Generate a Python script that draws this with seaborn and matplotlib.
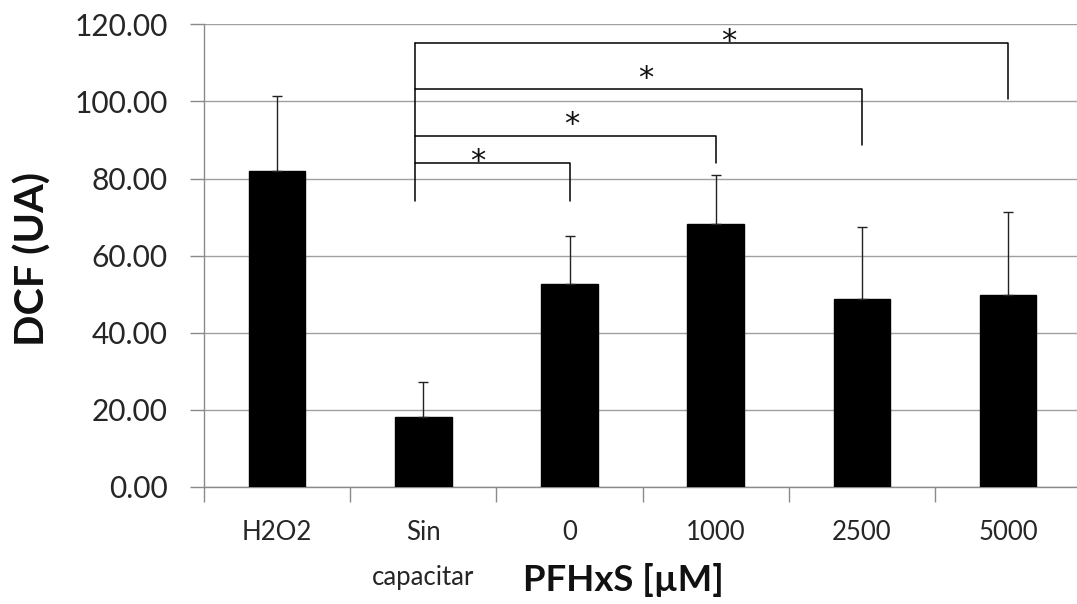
import matplotlib
matplotlib.use("Agg")
import matplotlib.pyplot as plt
import seaborn as sns
import pandas as pd
import numpy as np

categories = ["H2O2", "Sin\ncapacitar", "0", "1000", "2500", "5000"]
means = [82.0, 18.1, 52.6, 68.3, 48.8, 49.9]
errors = [19.3, 9.2, 12.4, 12.7, 18.7, 21.5]

# significance brackets from "Sin capacitar" to each PFHxS group
bracket_right = [2, 3, 4, 5]
bracket_top = [84.0, 91.0, 103.1, 115.1]
bracket_right_bottom = [74.1, 84.0, 88.8, 100.5]
bracket_left_bottom = 74.1
star_x = [1.375, 2.015, 2.524, 3.09]
star_y = [86.8, 96.5, 108.3, 117.9]

sns.set_theme(style="white")
plt.rcParams['font.family'] = ['Lato', 'DejaVu Sans']

df = pd.DataFrame({"cat": categories, "val": means})

W, H = 1077, 604
ax_left, ax_right, ax_top, ax_bottom = 204, 1077, 24.3, 487
fig = plt.figure(figsize=(W / 100, H / 100), dpi=100)
ax = fig.add_axes([ax_left / W, 1 - ax_bottom / H, (ax_right - ax_left) / W, (ax_bottom - ax_top) / H])

sns.barplot(data=df, x="cat", y="val", color="black", width=0.386,
            errorbar=None, ax=ax, saturation=1, zorder=3)
for p in ax.patches:
    p.set_edgecolor("black")

xs = np.arange(len(categories))
ax.errorbar(xs, means, yerr=[np.zeros(len(means)), errors], fmt="none",
            ecolor="#222222", elinewidth=1.0, capsize=3.5, capthick=1.0, zorder=4)

# brackets
left_x = 1 - 0.058
top_max = max(bracket_top)
ax.plot([left_x, left_x], [bracket_left_bottom, top_max], color="black", lw=1.1, zorder=5)
for r, t, b in zip(bracket_right, bracket_top, bracket_right_bottom):
    ax.plot([left_x, r, r], [t, t, b], color="black", lw=1.1, zorder=5)
for sx, sy in zip(star_x, star_y):
    ax.text(sx, sy - 2.4, "*", ha="center", va="center", fontsize=22,
            family="DejaVu Sans", color="#111111", zorder=6)

px_per_cat = 146.2
ax.set_xlim(-0.5, -0.5 + (ax_right - ax_left) / px_per_cat)
ax.set_ylim(0, 120)
ax.set_yticks(np.arange(0, 121, 20))
ax.set_yticklabels([f"{v:.2f}" for v in np.arange(0, 121, 20)])
ax.yaxis.grid(True, color="#a0a0a0", lw=1.0, zorder=0)
ax.set_axisbelow(True)

# x ticks at category boundaries, labels at centers
ax.set_xticks(np.arange(-0.5, 5.0, 1.0))
ax.set_xticklabels([])
ax.set_xticks(xs, minor=True)
ax.set_xticklabels(categories, minor=True, fontsize=18.5, color="#262626", linespacing=1.96, va="top")
ax.tick_params(axis="x", which="major", length=11, width=1, color="#8a8a8a", direction="out", bottom=True)
ax.tick_params(axis="x", which="minor", length=0, pad=24)
ax.tick_params(axis="y", length=10, width=1, color="#8a8a8a", direction="out", left=True,
               labelsize=21.5, labelcolor="#262626", pad=16)

for s in ["top", "right"]:
    ax.spines[s].set_visible(False)
for s in ["left", "bottom"]:
    ax.spines[s].set_color("#8a8a8a")
    ax.spines[s].set_linewidth(1.0)

ax.set_xlabel("")
ax.set_ylabel("")
fig.text(33 / W, 1 - 259 / H, "DCF (UA)", rotation=90, ha="center", va="center",
         fontsize=29.7, fontweight="bold", color="#111111")
fig.text(623.5 / W, 1 - 580 / H, "PFHxS [µM]", ha="center", va="center",
         fontsize=26.3, fontweight="bold", color="#111111")

fig.savefig("out.png", dpi=100)
